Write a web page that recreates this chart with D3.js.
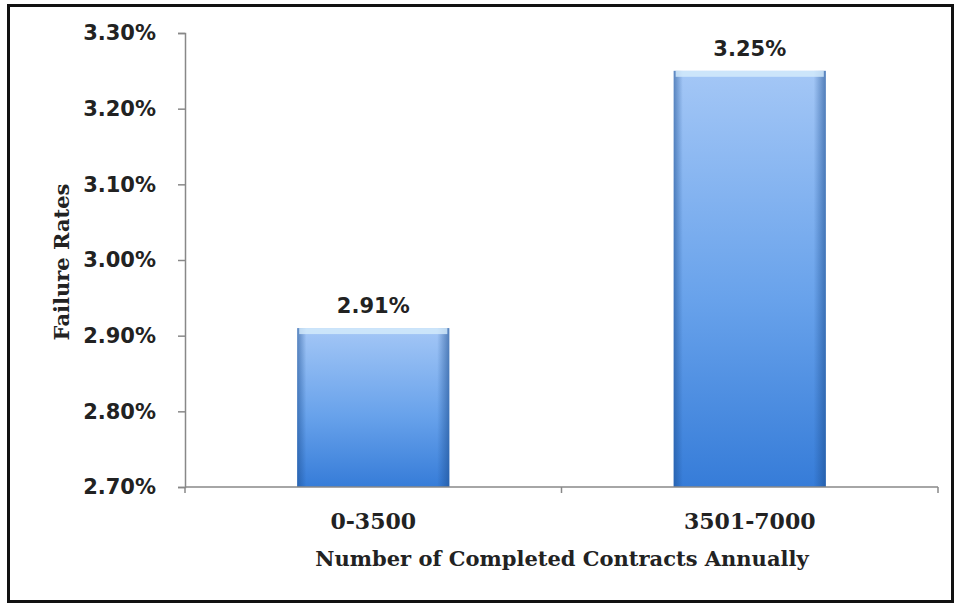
<!DOCTYPE html>
<html>
<head>
<meta charset="utf-8">
<script src="https://cdn.jsdelivr.net/npm/d3@7"></script>
<style>
  body { margin: 0; background: #fff; }
</style>
</head>
<body>
<div id="chart"></div>
<script>
const categories = ["0-3500", "3501-7000"];
const failureRates = [2.91, 3.25];
const yTicks = [2.7, 2.8, 2.9, 3.0, 3.1, 3.2, 3.3];

const width = 960, height = 606;
const margin = { left: 185, right: 22, top: 33, bottom: 119 };

const svg = d3.select("#chart").append("svg")
    .attr("width", width)
    .attr("height", height);

// outer frame
svg.append("rect")
    .attr("x", 8.5).attr("y", 5.5)
    .attr("width", 944).attr("height", 596)
    .attr("fill", "#fff")
    .attr("stroke", "#111")
    .attr("stroke-width", 3);

const defs = svg.append("defs");
const vgrad = defs.append("linearGradient")
    .attr("id", "barV").attr("x1", 0).attr("y1", 0).attr("x2", 0).attr("y2", 1);
vgrad.append("stop").attr("offset", "0%").attr("stop-color", "#a4c7f6");
vgrad.append("stop").attr("offset", "55%").attr("stop-color", "#68a2eb");
vgrad.append("stop").attr("offset", "100%").attr("stop-color", "#367cd8");

const hgrad = defs.append("linearGradient")
    .attr("id", "barH").attr("x1", 0).attr("y1", 0).attr("x2", 1).attr("y2", 0);
hgrad.append("stop").attr("offset", "0%").attr("stop-color", "#1d4f91").attr("stop-opacity", 0.55);
hgrad.append("stop").attr("offset", "6%").attr("stop-color", "#1d4f91").attr("stop-opacity", 0.0);
hgrad.append("stop").attr("offset", "92%").attr("stop-color", "#1d4f91").attr("stop-opacity", 0.0);
hgrad.append("stop").attr("offset", "100%").attr("stop-color", "#1d4f91").attr("stop-opacity", 0.6);

const x = d3.scaleBand()
    .domain(categories)
    .range([margin.left, width - margin.right])
    .paddingInner(0.596)
    .paddingOuter(0.298);

const y = d3.scaleLinear()
    .domain([2.7, 3.3])
    .range([height - margin.bottom, margin.top]);

const g = svg.append("g");

// bars
const bars = g.selectAll("g.bar").data(categories).enter().append("g").attr("class", "bar");
bars.append("rect")
    .attr("x", d => x(d))
    .attr("y", (d, i) => y(failureRates[i]))
    .attr("width", x.bandwidth())
    .attr("height", (d, i) => y(2.7) - y(failureRates[i]))
    .attr("fill", "url(#barV)");
bars.append("rect")
    .attr("x", d => x(d))
    .attr("y", (d, i) => y(failureRates[i]))
    .attr("width", x.bandwidth())
    .attr("height", (d, i) => y(2.7) - y(failureRates[i]))
    .attr("fill", "url(#barH)");
// light top cap
bars.append("rect")
    .attr("x", d => x(d) + 2)
    .attr("y", (d, i) => y(failureRates[i]))
    .attr("width", x.bandwidth() - 4)
    .attr("height", 6)
    .attr("fill", "#d6ecfb")
    .attr("opacity", 0.8);

// value labels
g.selectAll("text.val").data(categories).enter().append("text")
    .attr("class", "val")
    .attr("x", d => x(d) + x.bandwidth() / 2)
    .attr("y", (d, i) => y(failureRates[i]) - 15)
    .attr("text-anchor", "middle")
    .style("font-family", "'DejaVu Sans', sans-serif")
    .style("font-weight", "bold")
    .style("font-size", "21px")
    .attr("fill", "#222")
    .text((d, i) => failureRates[i].toFixed(2) + "%");

// y axis
const yAxis = d3.axisLeft(y)
    .tickValues(yTicks)
    .tickSize(7)
    .tickPadding(22)
    .tickFormat(d => d.toFixed(2) + "%");
const ya = svg.append("g")
    .attr("transform", "translate(" + margin.left + ",0)")
    .call(yAxis);
ya.select(".domain").attr("stroke", "#888").attr("stroke-width", 1.5);
ya.selectAll(".tick line").attr("stroke", "#888").attr("stroke-width", 1.5);
ya.selectAll(".tick text")
    .style("font-family", "'DejaVu Sans', sans-serif")
    .style("font-weight", "bold")
    .style("font-size", "21px")
    .attr("fill", "#222");

// x axis
const xa = svg.append("g")
    .attr("transform", "translate(0," + (height - margin.bottom) + ")");
xa.append("line")
    .attr("x1", margin.left).attr("x2", width - margin.right)
    .attr("stroke", "#888").attr("stroke-width", 1.5);
const xEdges = [margin.left, (x(categories[0]) + x.bandwidth() + x(categories[1])) / 2, width - margin.right];
xa.selectAll("line.tk").data(xEdges).enter().append("line")
    .attr("class", "tk")
    .attr("x1", d => d).attr("x2", d => d)
    .attr("y1", 0).attr("y2", 6)
    .attr("stroke", "#888").attr("stroke-width", 1.5);
xa.selectAll("text.cat").data(categories).enter().append("text")
    .attr("class", "cat")
    .attr("x", d => x(d) + x.bandwidth() / 2)
    .attr("y", 42)
    .attr("text-anchor", "middle")
    .style("font-family", "'DejaVu Serif', serif")
    .style("font-weight", "bold")
    .style("font-size", "22px")
    .attr("fill", "#222")
    .text(d => d);

// axis titles
svg.append("text")
    .attr("x", 562)
    .attr("y", 566)
    .attr("text-anchor", "middle")
    .style("font-family", "'DejaVu Serif', serif")
    .style("font-weight", "bold")
    .style("font-size", "21px")
    .attr("fill", "#222")
    .text("Number of Completed Contracts Annually");

svg.append("text")
    .attr("transform", "translate(69,262) rotate(-90)")
    .attr("text-anchor", "middle")
    .style("font-family", "'DejaVu Serif', serif")
    .style("font-weight", "bold")
    .style("font-size", "21px")
    .attr("fill", "#222")
    .text("Failure Rates");
</script>
</body>
</html>
